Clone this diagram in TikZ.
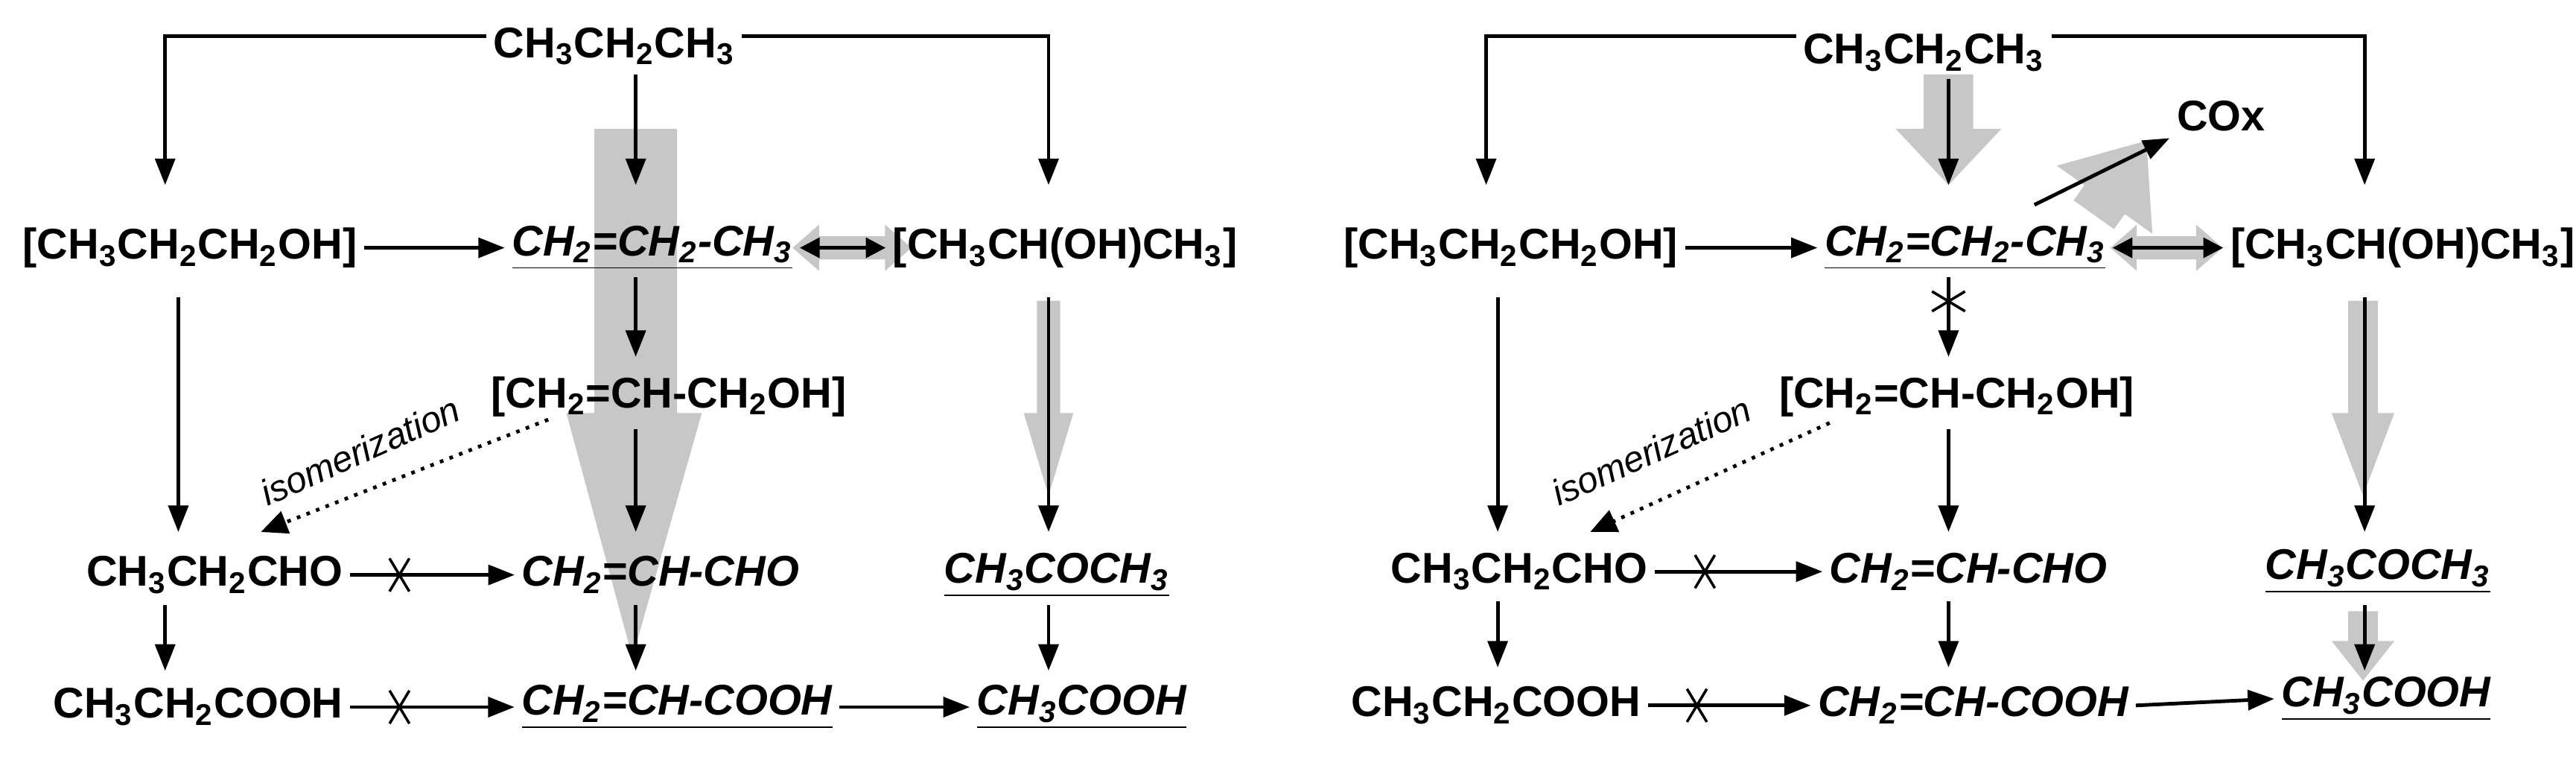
\documentclass[tikz,border=0pt]{standalone}
\usepackage{fontspec}
\setmainfont{Liberation Sans}
\usetikzlibrary{arrows.meta,decorations.markings}
\newcommand\sbs[1]{\textsubscript{#1}}
\tikzset{
  every node/.style={font=\fontsize{13}{15}\bfseries\selectfont, inner sep=2pt},
  it/.style={font=\fontsize{13}{15}\bfseries\itshape\selectfont},
  arr/.style={-{Triangle[length=8pt,width=6pt]}, line width=1.1pt},
  dbl/.style={{Triangle[length=6pt,width=6pt]}-{Triangle[length=6pt,width=6pt]}, line width=1.1pt},
  crossed/.style={arr, postaction={decorate}, decoration={markings, mark=at position 0.3 with {\draw[-,line width=0.8pt] (-3pt,-5pt)--(3pt,5pt) (-3pt,5pt)--(3pt,-5pt);}}},
  dots/.style={-{Triangle[length=8pt,width=7pt]}, line width=1.1pt, dotted},
  ghost/.style={fill=black!22, draw=none},
}
\begin{document}
\begin{tikzpicture}[x=0.5pt,y=-0.5pt]
\useasboundingbox (0,0) rectangle (1560,458);
\coordinate (top) at (0,22);
% ---------- left panel gray ----------
\fill[ghost] (360,78)--(410,78)--(410,250)--(425,250)--(383,398)--(343,250)--(360,250)--cycle;
\fill[ghost] (480,150)--(496,136)--(496,143)--(536,143)--(536,136)--(552,150)--(536,164)--(536,157)--(496,157)--(496,164)--cycle;
\fill[ghost] (628,182)--(642,182)--(642,250)--(650,250)--(635,300)--(620,250)--(628,250)--cycle;
% ---------- left panel nodes ----------
\node (a1) at (372,28) {CH\sbs3CH\sbs2CH\sbs3};
\node (b1) at (115,150) {[CH\sbs3CH\sbs2CH\sbs2OH]};
\node[it] (c1) at (395,150) {\underline{CH\sbs2=CH\sbs2-CH\sbs3}};
\node (d1) at (645,150) {[CH\sbs3CH(OH)CH\sbs3]};
\node (e1) at (405,240) {[CH\sbs2=CH-CH\sbs2OH]};
\node (f1) at (130,348) {CH\sbs3CH\sbs2CHO};
\node[it] (g1) at (400,348) {CH\sbs2=CH-CHO};
\node[it] (h1) at (640,348) {\underline{CH\sbs3COCH\sbs3}};
\node (i1) at (120,428) {CH\sbs3CH\sbs2COOH};
\node[it] (j1) at (410,428) {\underline{CH\sbs2=CH-COOH}};
\node[it] (k1) at (655,428) {\underline{CH\sbs3COOH}};
\coordinate (l1) at (100,112);
\coordinate (r1) at (635,112);
\node[rotate=24, font=\fontsize{11}{13}\itshape\selectfont] (iso1) at (218,273) {isomerization};
\coordinate (isoA1) at (332,254);
\coordinate (isoB1) at (158,322);
% ---------- left connectors ----------
\draw[arr] (a1.west |- top) -| (l1);
\draw[arr] (a1.east |- top) -| (r1);
\draw[arr] (385,45) -- (385,112);
\draw[arr] (b1.east) -- (c1.west);
\draw[dbl] (c1.east) -- (d1.west);
\draw[arr] (385,168) -- (385,216);
\draw[arr] (385,260) -- (385,322);
\draw[arr] (108,180) -- (108,322);
\draw[arr] (635,180) -- (635,322);
\draw[dots] (isoA1) -- (isoB1);
\draw[crossed] (f1.east) -- (g1.west);
\draw[arr] (100,366) -- (100,406);
\draw[arr] (385,366) -- (385,406);
\draw[arr] (635,366) -- (635,406);
\draw[crossed] (i1.east) -- (j1.west);
\draw[arr] (j1.east) -- (k1.west);
% ---------- right panel gray ----------
\fill[ghost] (1165,45)--(1195,45)--(1195,78)--(1212,78)--(1180,112)--(1148,78)--(1165,78)--cycle;
\draw[black!22, line width=15pt, -{Triangle[length=22pt,width=34pt]}] (1268,130) -- (1300,85);
\fill[ghost] (1278,150)--(1294,136)--(1294,143)--(1330,143)--(1330,136)--(1346,150)--(1330,164)--(1330,157)--(1294,157)--(1294,164)--cycle;
\fill[ghost] (1422,182)--(1440,182)--(1440,250)--(1450,250)--(1431,300)--(1412,250)--(1422,250)--cycle;
\fill[ghost] (1422,370)--(1440,370)--(1440,388)--(1450,388)--(1431,412)--(1412,388)--(1422,388)--cycle;
% ---------- right panel nodes ----------
\node (a2) at (1165,32) {CH\sbs3CH\sbs2CH\sbs3};
\node (cox) at (1345,70) {COx};
\node (b2) at (915,150) {[CH\sbs3CH\sbs2CH\sbs2OH]};
\node[it] (c2) at (1190,150) {\underline{CH\sbs2=CH\sbs2-CH\sbs3}};
\node (d2) at (1455,150) {[CH\sbs3CH(OH)CH\sbs3]};
\node (e2) at (1185,240) {[CH\sbs2=CH-CH\sbs2OH]};
\node (f2) at (920,346) {CH\sbs3CH\sbs2CHO};
\node[it] (g2) at (1192,346) {CH\sbs2=CH-CHO};
\node[it] (h2) at (1440,346) {\underline{CH\sbs3COCH\sbs3}};
\node (i2) at (906,427) {CH\sbs3CH\sbs2COOH};
\node[it] (j2) at (1195,427) {CH\sbs2=CH-COOH};
\node[it] (k2) at (1445,423) {\underline{CH\sbs3COOH}};
\coordinate (l2) at (900,112);
\coordinate (r2) at (1432,112);
\coordinate (coxA) at (1232,124);
\node[rotate=24, font=\fontsize{11}{13}\itshape\selectfont] (iso2) at (1000,273) {isomerization};
\coordinate (isoA2) at (1108,256);
\coordinate (isoB2) at (963,322);
% ---------- right connectors ----------
\draw[arr] (a2.west |- top) -| (l2);
\draw[arr] (a2.east |- top) -| (r2);
\draw[arr] (1180,48) -- (1180,112);
\draw[arr] (coxA) -- (cox.south west);
\draw[arr] (b2.east) -- (c2.west);
\draw[dbl] (c2.east) -- (d2.west);
\draw[crossed] (1180,168) -- (1180,216);
\draw[arr] (1180,260) -- (1180,322);
\draw[arr] (907,180) -- (907,322);
\draw[arr] (1432,180) -- (1432,322);
\draw[dots] (isoA2) -- (isoB2);
\draw[crossed] (f2.east) -- (g2.west);
\draw[arr] (907,364) -- (907,404);
\draw[arr] (1180,364) -- (1180,404);
\draw[arr] (1432,366) -- (1432,406);
\draw[crossed] (i2.east) -- (j2.west);
\draw[arr] (j2.east) -- (k2.west);
\end{tikzpicture}
\end{document}
